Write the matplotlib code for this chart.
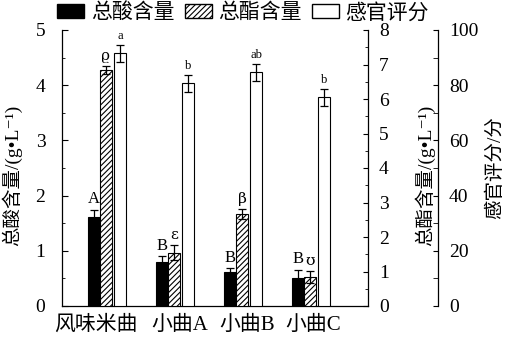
import matplotlib
matplotlib.use("Agg")
import matplotlib.pyplot as plt
import matplotlib.transforms as mtransforms
import numpy as np
from matplotlib.patches import Patch
from matplotlib.ticker import MultipleLocator

plt.rcParams['font.family'] = ['Liberation Serif', 'Noto Sans CJK SC', 'DejaVu Sans']
plt.rcParams['hatch.color'] = '#8a8a8a'
plt.rcParams['hatch.linewidth'] = 0.8

categories = ['风味米曲', '小曲A', '小曲B', '小曲C']
acid = [1.62, 0.79, 0.62, 0.51]
acid_err = [0.12, 0.11, 0.06, 0.15]
ester = [6.84, 1.55, 2.66, 0.85]
ester_err = [0.12, 0.22, 0.15, 0.17]
score = [91.5, 80.7, 84.7, 75.6]
score_err = [3.0, 3.0, 3.1, 3.0]
acid_sig = ['A', 'B', 'B', 'B']
ester_sig = ['ϱ', 'ε', 'β', 'ʊ']
score_sig = ['a', 'b', 'ab', 'b']

fig = plt.figure(figsize=(5.06, 3.40), dpi=100)
ax = fig.add_axes([62 / 506, 34 / 340, 306 / 506, 276 / 340])
ax2 = ax.twinx()
ax3 = ax.twinx()

x = np.arange(len(categories))
w = 0.176
gap = 0.03
ekw = dict(ecolor='black', elinewidth=0.9, capsize=3, capthick=0.9)

ax.bar(x - w, acid, w, color='black', edgecolor='black', linewidth=0.8,
       yerr=acid_err, error_kw=ekw)
ax2.bar(x, ester, w, color='white', edgecolor='black', linewidth=0.8,
        hatch='//////', yerr=ester_err, error_kw=ekw)
ax3.bar(x + w + gap, score, w, color='white', edgecolor='black', linewidth=0.8,
        yerr=score_err, error_kw=ekw)

for i in range(len(categories)):
    ax.text(x[i] - w, acid[i] + acid_err[i] + 0.05, acid_sig[i],
            ha='center', va='bottom', fontsize=12)
    ax2.text(x[i], ester[i] + ester_err[i] + 0.08, ester_sig[i],
             ha='center', va='bottom', fontsize=11,
             family=['DejaVu Serif', 'DejaVu Sans'])
    ax3.text(x[i] + w + gap, score[i] + score_err[i] + 1.0, score_sig[i],
             ha='center', va='bottom', fontsize=9)

ax.set_xlim(-0.647, 3.853)
ax.set_ylim(0, 5)
ax2.set_ylim(0, 8)
ax3.set_ylim(0, 100)

ax.set_xticks(x)
ax.set_xticklabels(categories, fontsize=15)
ax.tick_params(axis='x', length=0, pad=7)
# nudge the category names so the long first one does not crowd the next
label_shift_pt = [-7.5, 4.5, 3.5, 2.0]
for lab, dx in zip(ax.get_xticklabels(), label_shift_pt):
    lab.set_transform(lab.get_transform() +
                      mtransforms.ScaledTranslation(dx / 72, 0, fig.dpi_scale_trans))

ax.yaxis.set_major_locator(MultipleLocator(1))
ax.yaxis.set_minor_locator(MultipleLocator(0.5))
ax.tick_params(axis='y', which='major', direction='in', length=4, labelsize=14, pad=12)
ax.tick_params(axis='y', which='minor', direction='in', length=2.5)

ax2.yaxis.set_major_locator(MultipleLocator(1))
ax2.yaxis.set_minor_locator(MultipleLocator(0.5))
ax2.tick_params(axis='y', which='major', direction='in', length=3.5, labelsize=14, pad=8)
ax2.tick_params(axis='y', which='minor', direction='in', length=2.5)

ax3.spines['right'].set_position(('axes', (438 - 62) / 306))
ax3.yaxis.set_major_locator(MultipleLocator(20))
ax3.yaxis.set_minor_locator(MultipleLocator(10))
ax3.tick_params(axis='y', which='both', direction='in', length=3.5, labelsize=14, pad=8)

for s in ['top', 'right']:
    ax.spines[s].set_visible(False)
for s in ['top', 'left', 'bottom']:
    ax2.spines[s].set_visible(False)
    ax3.spines[s].set_visible(False)
for a in (ax, ax2, ax3):
    for s in a.spines.values():
        s.set_linewidth(0.9)

# axis titles, all reading bottom-to-top
ylab_kw = dict(rotation=90, ha='center', va='center', fontsize=14)
fig.text(12 / 506, 1 - 175 / 340, '总酸含量/(g•L⁻¹)', **ylab_kw)
fig.text(425 / 506, 1 - 175 / 340, '总酯含量/(g•L⁻¹)', **ylab_kw)
fig.text(495 / 506, 1 - 168 / 340, '感官评分/分', **ylab_kw)

handles = [
    Patch(facecolor='black', edgecolor='black'),
    Patch(facecolor='white', edgecolor='black', hatch='//////'),
    Patch(facecolor='white', edgecolor='black'),
]
fig.legend(handles, ['总酸含量', '总酯含量', '感官评分'], ncol=3,
           loc='upper center', bbox_to_anchor=(243 / 506, 1.045), frameon=False,
           fontsize=15, handlelength=1.3, handleheight=0.6,
           handletextpad=0.3, columnspacing=0.5)

fig.savefig('out.png', dpi=100)
